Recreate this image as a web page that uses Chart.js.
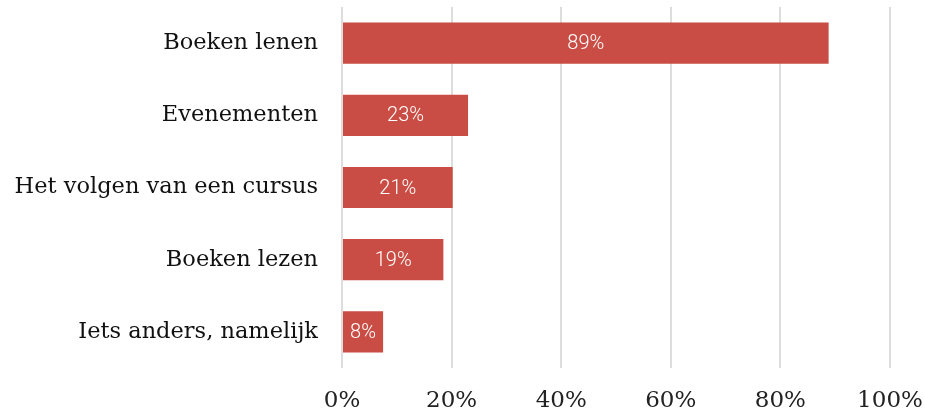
<!DOCTYPE html>
<html>
<head>
<meta charset="utf-8">
<script src="https://cdn.jsdelivr.net/npm/chart.js@4"></script>
<style>
  html, body { margin: 0; padding: 0; background: #fff; }
  #wrap { width: 925px; height: 412px; }
</style>
</head>
<body>
<div id="wrap"><canvas id="chart" width="925" height="412"></canvas></div>
<script>
// DATA
const categories = ["Boeken lenen", "Evenementen", "Het volgen van een cursus", "Boeken lezen", "Iets anders, namelijk"];
const values = [88.8, 23, 20.2, 18.5, 7.5];
const valueLabels = ["89%", "23%", "21%", "19%", "8%"];
const tickValues = [0, 20, 40, 60, 80, 100];

// draw the % inside each bar
const barLabels = {
  id: "barLabels",
  afterDatasetsDraw(chart) {
    const ctx = chart.ctx;
    const meta = chart.getDatasetMeta(0);
    ctx.save();
    ctx.fillStyle = "#ffffff";
    ctx.font = "300 20px Roboto";
    ctx.textAlign = "center";
    ctx.textBaseline = "middle";
    meta.data.forEach((bar, i) => {
      const x = (bar.base + bar.x) / 2;
      ctx.fillText(valueLabels[i], x, bar.y + 1);
    });
    ctx.restore();
  },
};

// no extra label padding, layout is fixed
const noPad = (s) => {
  s.paddingTop = 0;
  s.paddingBottom = 0;
  s.paddingLeft = 0;
  s.paddingRight = 0;
};

const config = {
  type: "bar",
  data: {
    labels: categories,
    datasets: [
      {
        data: values,
        backgroundColor: "rgb(201, 77, 68)",
        categoryPercentage: 1,
        barPercentage: 0.57,
      },
    ],
  },
  options: {
    indexAxis: "y",
    responsive: false,
    animation: false,
    layout: { padding: { top: 7, right: 35, left: 0, bottom: 0 } },
    scales: {
      x: {
        min: 0,
        max: 100,
        afterBuildTicks: (s) => { s.ticks = tickValues.map((v) => ({ value: v })); },
        afterFit: (s) => { s.height = 44; noPad(s); },
        border: { display: false },
        grid: { color: "#dddddd", lineWidth: 2, drawTicks: false },
        ticks: {
          padding: 19,
          maxRotation: 0,
          color: "#222",
          font: { family: "DejaVu Serif", size: 23 },
          callback: (v) => v + "%",
        },
      },
      y: {
        afterFit: (s) => { s.width = 342; noPad(s); },
        border: { display: false },
        grid: { display: false, drawTicks: false },
        ticks: {
          padding: 24,
          color: "#111",
          font: { family: "DejaVu Serif", size: 22.5 },
        },
      },
    },
    plugins: {
      legend: { display: false },
      tooltip: { enabled: false },
    },
  },
  plugins: [barLabels],
};

const chart = new Chart(document.getElementById("chart"), config);
</script>
</body>
</html>
